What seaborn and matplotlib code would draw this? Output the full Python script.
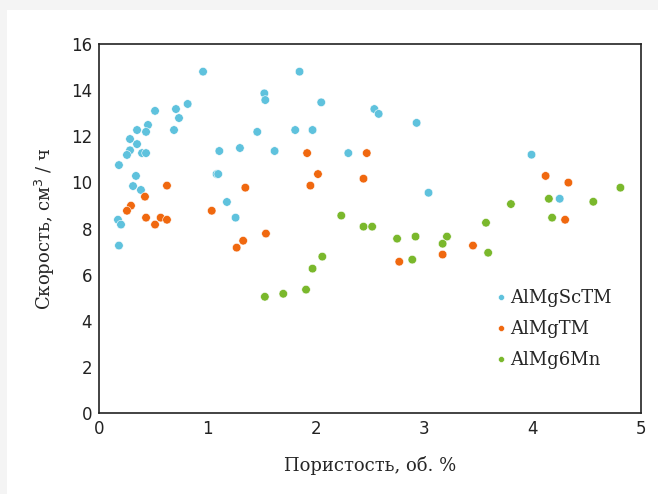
import numpy as np
import pandas as pd
import matplotlib
matplotlib.use("Agg")
import matplotlib.pyplot as plt
import seaborn as sns
from matplotlib.patches import Rectangle

# values
sctm_x = [0.96, 1.85, 1.525, 1.534, 2.05, 0.818, 0.71, 0.738, 0.517, 0.452, 0.434,
          0.351, 0.286, 0.351, 0.286, 0.258, 0.397, 0.434, 0.692, 0.184, 0.341,
          0.314, 0.387, 0.175, 0.203, 0.184, 1.11, 1.085, 1.10, 1.30, 1.18, 1.26,
          1.46, 1.81, 1.97, 1.62, 2.30, 2.54, 2.58, 2.93, 3.04, 3.99, 4.25]
sctm_y = [14.8, 14.8, 13.86, 13.57, 13.47, 13.4, 13.18, 12.79, 13.1, 12.49, 12.19,
          12.27, 11.88, 11.66, 11.39, 11.19, 11.27, 11.27, 12.27, 10.75, 10.28,
          9.84, 9.67, 8.38, 8.17, 7.26, 11.36, 10.36, 10.36, 11.49, 9.15, 8.47,
          12.19, 12.27, 12.27, 11.36, 11.27, 13.18, 12.97, 12.58, 9.55, 11.2, 9.29]

tm_x = [0.627, 0.424, 0.295, 0.258, 0.434, 0.517, 0.569, 0.627, 1.04, 1.35, 1.54,
        1.33, 1.27, 1.92, 2.02, 1.95, 2.47, 2.44, 4.12, 4.33, 4.30, 3.45, 3.17, 2.77]
tm_y = [9.86, 9.38, 8.99, 8.77, 8.47, 8.17, 8.47, 8.38, 8.77, 9.77, 7.78,
        7.47, 7.17, 11.27, 10.36, 9.86, 11.27, 10.16, 10.28, 9.99, 8.38, 7.26, 6.87, 6.56]

mn_x = [2.52, 2.44, 2.75, 2.92, 2.89, 3.21, 3.17, 3.57, 3.59, 3.80, 4.15, 4.18,
        4.56, 4.81, 2.235, 2.06, 1.97, 1.91, 1.70, 1.53]
mn_y = [8.08, 8.08, 7.56, 7.65, 6.65, 7.65, 7.34, 8.25, 6.95, 9.06, 9.29, 8.47,
        9.16, 9.77, 8.56, 6.78, 6.26, 5.35, 5.17, 5.04]

series = ["AlMgScTM", "AlMgTM", "AlMg6Mn"]
colors = ["#5fc2dd", "#f0680f", "#7ab82c"]

df = pd.DataFrame({
    "x": sctm_x + tm_x + mn_x,
    "y": sctm_y + tm_y + mn_y,
    "alloy": [series[0]] * len(sctm_x) + [series[1]] * len(tm_x) + [series[2]] * len(mn_x),
})

sns.set_style("white")
plt.rcParams["font.family"] = ["DejaVu Sans"]

fig = plt.figure(figsize=(6.58, 4.94), dpi=100, facecolor="#f4f4f4")
# white panel, gray strip on top and left
fig.patches.append(Rectangle((7 / 658, 0), 1, 484 / 494, transform=fig.transFigure,
                             facecolor="white", edgecolor="none", zorder=-10))
ax = fig.add_axes([99 / 658, 1 - 413 / 494, 542 / 658, 369 / 494])
ax.set_facecolor("white")

sns.scatterplot(data=df, x="x", y="y", hue="alloy", hue_order=series,
                palette=colors, s=38, edgecolor="white", linewidth=0.4, ax=ax)

ax.set_xlim(0, 5)
ax.set_ylim(0, 16)
ax.set_xticks(np.arange(0, 6, 1))
ax.set_yticks(np.arange(0, 18, 2))
ax.tick_params(direction="in", length=7, width=0.9, labelsize=12, colors="#222222",
               top=False, right=False, pad=5)
for sp in ax.spines.values():
    sp.set_color("#222222")
    sp.set_linewidth(1.2)

serif = ["DejaVu Serif"]
ax.set_xlabel("Пористость, об. %", family=serif, fontsize=13, labelpad=13)
ax.set_ylabel("Скорость, см$^3$ / ч", family=serif, fontsize=13, labelpad=10)

leg = ax.legend(loc="upper left", bbox_to_anchor=(0.733, 0.335), frameon=False,
                borderaxespad=0, borderpad=0,
                markerscale=0.7, handlelength=0.5, handletextpad=0.25,
                labelspacing=0.72, prop={"family": serif, "size": 13})

fig.savefig("out.png", dpi=100, facecolor=fig.get_facecolor())
